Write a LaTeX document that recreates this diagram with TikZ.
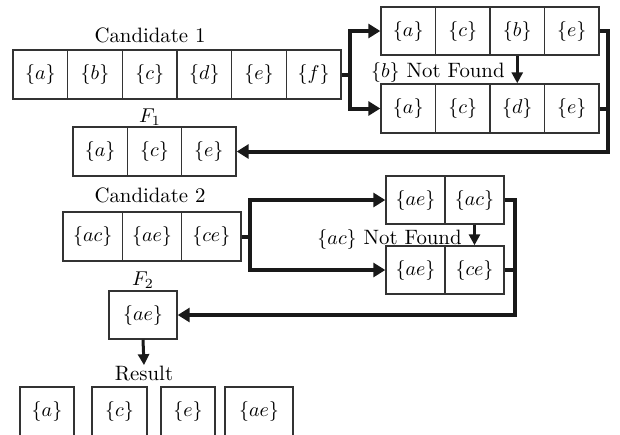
\documentclass[tikz,border=0pt]{standalone}
\usetikzlibrary{arrows.meta,shadows,calc}
\begin{document}
\begin{tikzpicture}[x=0.5pt,y=-0.5pt,
  every node/.style={font=\fontsize{10.4}{12}\selectfont},
  cell/.style={draw=black!80, line width=0.7pt, fill=white, inner sep=0pt,
    minimum height=24.5pt,
    drop shadow={shadow xshift=0.3pt,shadow yshift=-0.7pt,opacity=0.55,fill=black}},
  lab/.style={inner sep=0pt, anchor=base},
  flow/.style={line width=2pt, draw=black!90},
  flowarrow/.style={flow, -{Triangle[length=6pt,width=7pt]}},
  downarrow/.style={line width=1.5pt, draw=black!90, -{Triangle[length=5.5pt,width=5.5pt]}},
]
\clip (0,0) rectangle (620,434);

% Candidate 1
\node[lab] (cand1) at (150,42) {Candidate 1};
\foreach \t/\n [count=\i from 0] in {a/c1a,b/c1b,c/c1c,d/c1d,e/c1e,f/c1f}
  \node[cell, minimum width=27.33pt] (\n) at ({40.33+54.67*\i},74.5) {$\{\t\}$};

% first test row and its correction
\foreach \t/\n [count=\i from 0] in {a/r1a,c/r1b,b/r1c,e/r1d}
  \node[cell, minimum width=27.25pt, minimum height=24pt] (\n) at ({408.25+54.5*\i},31) {$\{\t\}$};
\foreach \t/\n [count=\i from 0] in {a/r2a,c/r2b,d/r2c,e/r2d}
  \node[cell, minimum width=27.25pt] (\n) at ({408.25+54.5*\i},108.5) {$\{\t\}$};
\node[lab, anchor=base east] (nf1) at (505,77) {$\{b\}$ Not Found};

% F1
\node[lab] (f1lab) at (150,122) {$F_1$};
\foreach \t/\n [count=\i from 0] in {a/f1a,c/f1b,e/f1c}
  \node[cell, minimum width=27.17pt] (\n) at ({100.17+54.33*\i},151.5) {$\{\t\}$};

% Candidate 2
\node[lab] (cand2) at (150,202) {Candidate 2};
\foreach \t/\n [count=\i from 0] in {ac/c2a,ae/c2b,ce/c2c}
  \node[cell, minimum width=29.67pt] (\n) at ({92.67+59.33*\i},236.5) {$\{\t\}$};

\foreach \t/\n [count=\i from 0] in {ae/s1a,ac/s1b}
  \node[cell, minimum width=29.5pt, minimum height=24pt] (\n) at ({415.5+59*\i},200) {$\{\t\}$};
\foreach \t/\n [count=\i from 0] in {ae/s2a,ce/s2b}
  \node[cell, minimum width=29.5pt, minimum height=24pt] (\n) at ({415.5+59*\i},270) {$\{\t\}$};
\node[lab, anchor=base east] (nf2) at (462,244) {$\{ac\}$ Not Found};

% F2
\node[lab] (f2lab) at (143,285) {$F_2$};
\node[cell, minimum width=34pt, minimum height=24pt] (f2) at (143,315) {$\{ae\}$};

% Result
\node[lab] (res) at (144,380) {Result};
\node[cell, minimum width=27pt] (ra) at (47,411.5) {$\{a\}$};
\node[cell, minimum width=27.5pt] (rc) at (119.5,411.5) {$\{c\}$};
\node[cell, minimum width=27pt] (re) at (188,411.5) {$\{e\}$};
\node[cell, minimum width=34pt] (rae) at (259,411.5) {$\{ae\}$};

% junction points of the thick connectors
\coordinate (j1) at (350,74.5);
\coordinate (k1) at (608,151.5);
\coordinate (j2) at (250,236.5);
\coordinate (k2) at (515,315);

% connectors, first pass
\draw[flow] (c1f.east) -- (j1);
\draw[flowarrow] (j1) |- (r1a.west);
\draw[flowarrow] (j1) |- (r2a.west);
\draw[flow] (r2d.east) -- (r2d.east -| k1);
\draw[flowarrow] (r1d.east) -| (k1) -- (f1c.east);
\draw[downarrow] (r1c.south) -- (r2c.north);

% connectors, second pass
\draw[flow] (c2c.east) -- (j2);
\draw[flowarrow] (j2) |- (s1a.west);
\draw[flowarrow] (j2) |- (s2a.west);
\draw[flow] (s2b.east) -- (s2b.east -| k2);
\draw[flowarrow] (s1b.east) -| (k2) -- (f2.east);
\draw[downarrow] (s1b.south) -- (s2b.north);

\draw[downarrow] (f2.south) -- (res.north);
\end{tikzpicture}
\end{document}
